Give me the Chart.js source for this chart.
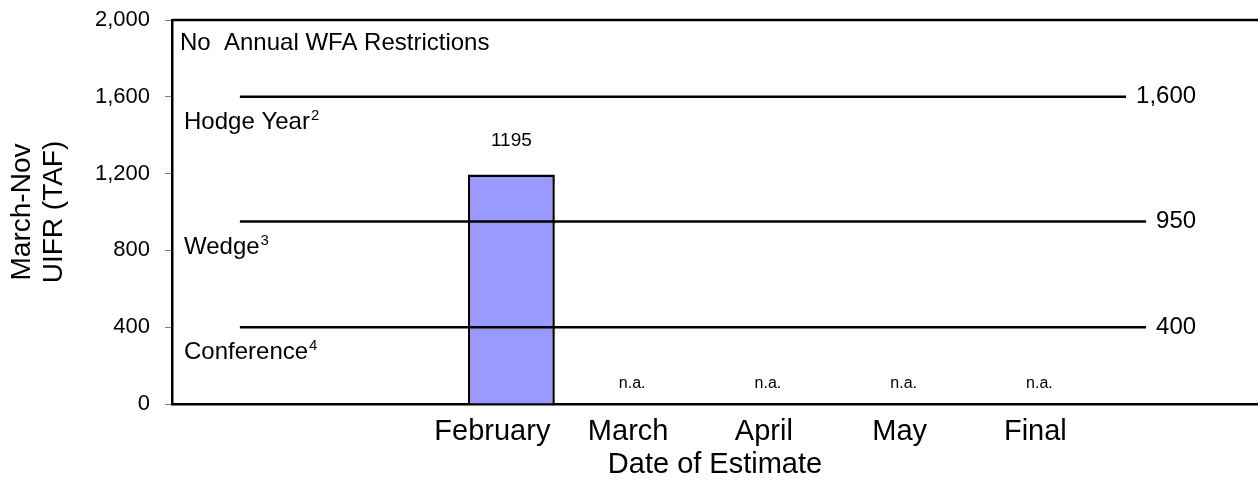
<!DOCTYPE html>
<html>
<head>
<meta charset="utf-8">
<script src="https://cdn.jsdelivr.net/npm/chart.js@4/dist/chart.umd.min.js"></script>
<style>
html, body { margin: 0; padding: 0; background: #fff; overflow: hidden; }
#wrap { width: 1258px; height: 484px; }
</style>
</head>
<body>
<div id="wrap"><canvas id="c" width="1258" height="484"></canvas></div>
<script>
// ---- data ----
const categories = ['', '', 'February', 'March', 'April', 'May', 'Final', ''];
const uifrTAF = [null, null, 1195, null, null, null, null, null];
const valueLabels = ['', '', '1195', 'n.a.', 'n.a.', 'n.a.', 'n.a.', ''];
const yTickValues = [0, 400, 800, 1200, 1600, 2000];
const thresholdValues = [1600, 950, 400];
const thresholdNames = ['Hodge Year', 'Wedge', 'Conference'];
const thresholdNotes = ['2', '3', '4'];
const regionNote = 'No  Annual WFA Restrictions';
const yTitle = ['March-Nov', 'UIFR (TAF)'];
const xTitle = 'Date of Estimate';

const FAMILY = "'Liberation Sans', Arial, sans-serif";

const overlay = {
  id: 'overlay',
  afterDatasetsDraw(chart) {
    const { ctx, chartArea: ca, scales: { x, y } } = chart;
    ctx.save();
    ctx.strokeStyle = '#000';
    ctx.fillStyle = '#000';
    // top frame line
    ctx.lineWidth = 2.5;
    ctx.beginPath();
    ctx.moveTo(ca.left, ca.top);
    ctx.lineTo(ca.right, ca.top);
    ctx.stroke();

    // region note
    ctx.font = `24px ${FAMILY}`;
    ctx.textAlign = 'left';
    ctx.textBaseline = 'alphabetic';
    ctx.fillText(regionNote, ca.left + 8, ca.top + 30);

    // threshold lines + labels
    const x0 = x.getPixelForValue(0);
    const labelRight = x.getPixelForValue(categories.length - 1) + 6;
    thresholdValues.forEach((v, i) => {
      const py = y.getPixelForValue(v);
      const txt = v.toLocaleString('en-US');
      ctx.font = `24px ${FAMILY}`;
      const w = ctx.measureText(txt).width;
      ctx.lineWidth = 2.5;
      ctx.beginPath();
      ctx.moveTo(x0, py);
      ctx.lineTo(labelRight - w - 10, py);
      ctx.stroke();
      ctx.textAlign = 'right';
      ctx.textBaseline = 'middle';
      ctx.fillText(txt, labelRight, py);

      // name with superscript note
      ctx.textAlign = 'left';
      ctx.textBaseline = 'alphabetic';
      ctx.font = `24px ${FAMILY}`;
      const nx = ca.left + 12;
      const ny = py + 32;
      ctx.fillText(thresholdNames[i], nx, ny);
      const nw = ctx.measureText(thresholdNames[i]).width;
      ctx.font = `15px ${FAMILY}`;
      ctx.fillText(thresholdNotes[i], nx + nw + 1, ny - 9);
    });

    // value labels
    ctx.textAlign = 'center';
    ctx.textBaseline = 'alphabetic';
    valueLabels.forEach((lab, i) => {
      if (!lab) return;
      const v = uifrTAF[i];
      if (v !== null && v !== undefined) {
        ctx.font = `19px ${FAMILY}`;
        ctx.fillText(lab, x.getPixelForValue(i), y.getPixelForValue(v) - 29);
      } else {
        ctx.font = `16px ${FAMILY}`;
        ctx.fillText(lab, x.getPixelForValue(i) - 15, y.getPixelForValue(0) - 16);
      }
    });
    ctx.restore();
  }
};

new Chart(document.getElementById('c'), {
  type: 'bar',
  data: {
    labels: categories,
    datasets: [{
      data: uifrTAF,
      backgroundColor: '#9999FF',
      borderColor: '#000',
      borderWidth: 2.5,
      categoryPercentage: 1,
      barPercentage: 0.64
    }]
  },
  options: {
    responsive: false,
    animation: false,
    layout: { padding: { top: 20, right: 0, left: 0, bottom: 0 } },
    plugins: { legend: { display: false }, tooltip: { enabled: false } },
    scales: {
      x: {
        offset: true,
        grid: { display: false, drawTicks: false },
        border: { display: true, color: '#000', width: 2.5 },
        ticks: { color: '#000', font: { family: FAMILY, size: 29 }, padding: 11, labelOffset: -19, autoSkip: false, maxRotation: 0 },
        title: { display: true, text: xTitle, color: '#000', font: { family: FAMILY, size: 29, lineHeight: 1.2 }, padding: { top: 0, bottom: 2 } },
        afterFit(s) { s.height = 80; s.paddingLeft = 0; s.paddingRight = 0; }
      },
      y: {
        min: 0,
        max: 2000,
        afterBuildTicks(s) { s.ticks = yTickValues.map(v => ({ value: v })); },
        grid: { drawOnChartArea: false, drawTicks: true, tickLength: 7, color: '#808080', lineWidth: 1 },
        border: { display: true, color: '#000', width: 2.5 },
        ticks: { color: '#000', font: { family: FAMILY, size: 22 }, padding: 15, callback: v => Number(v).toLocaleString('en-US') },
        title: { display: true, text: yTitle, color: '#000', font: { family: FAMILY, size: 28, lineHeight: 1.14 }, padding: { top: 6, bottom: 0 } },
        afterFit(s) { s.width = 172; s.paddingTop = 0; s.paddingBottom = 0; }
      }
    }
  },
  plugins: [overlay]
});
</script>
</body>
</html>
